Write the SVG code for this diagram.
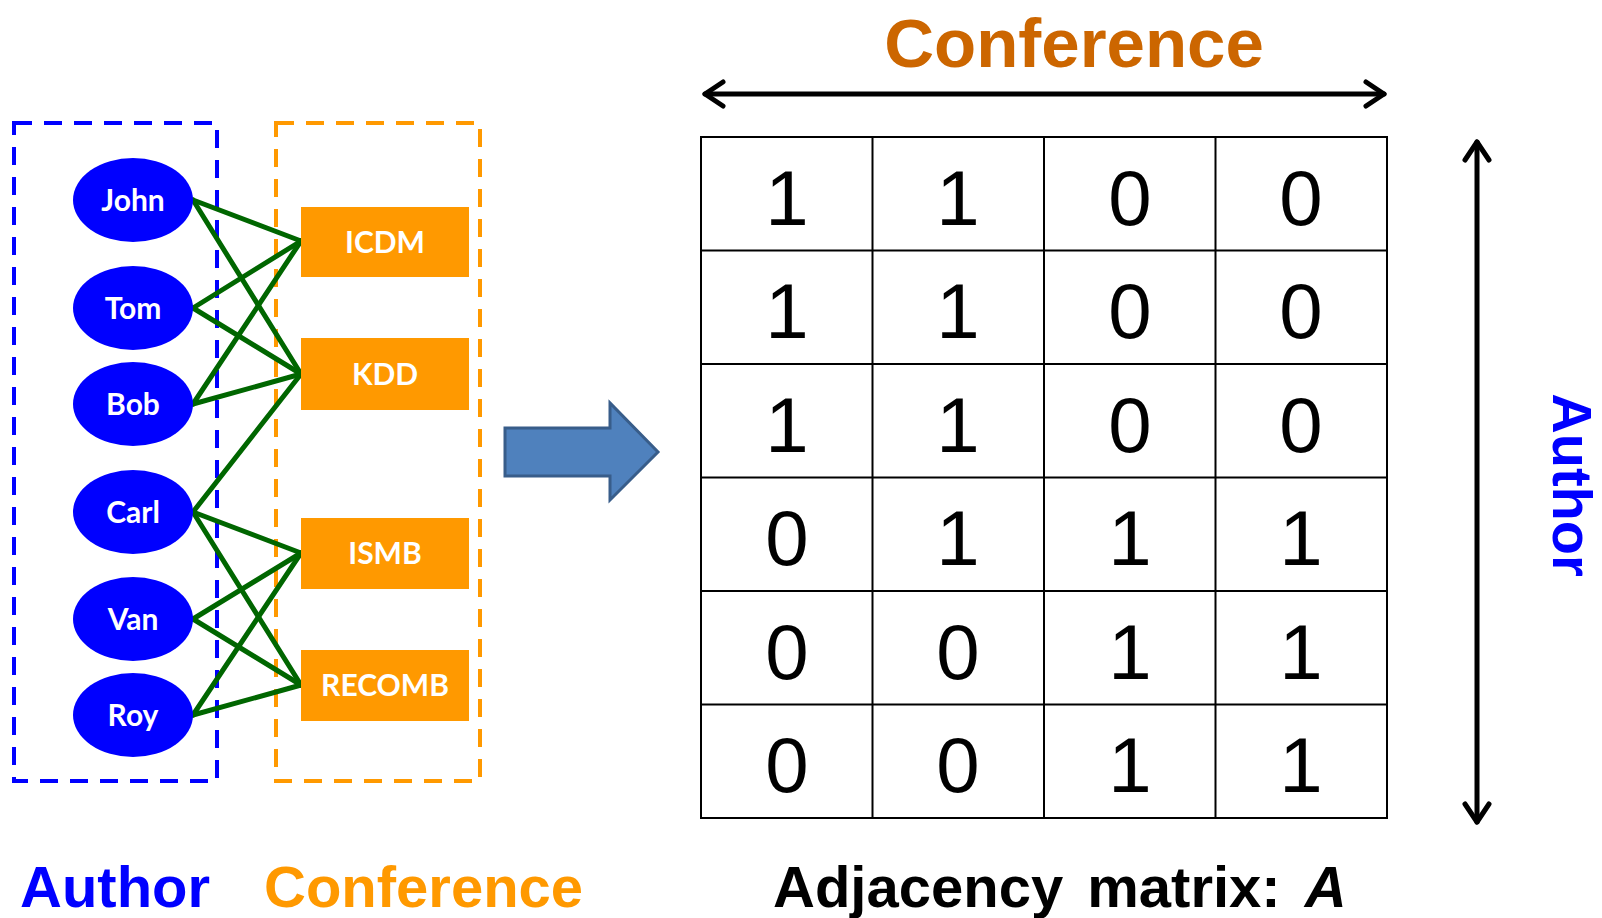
<svg xmlns="http://www.w3.org/2000/svg" width="1602" height="918" viewBox="0 0 1602 918">
<style>
.author ellipse{fill:#0000FF}
.conf rect{fill:#FF9900}
.nl{font-family:Lato,"Open Sans","Liberation Sans",sans-serif;font-weight:bold;font-size:30px;fill:#FFFFFF;text-anchor:middle}
.edge{stroke:#006600;stroke-width:5;fill:none;stroke-linecap:round}
.digit{font-family:"Liberation Sans",Arial,sans-serif;font-size:78px;fill:#000;text-anchor:middle}
.big{font-family:"Liberation Sans",Arial,sans-serif;font-weight:bold;font-size:58px}
.grid{stroke:#000;stroke-width:2;fill:none}
.dbl{stroke:#000;stroke-width:5;fill:none;stroke-linecap:round;stroke-linejoin:round}
</style>
<rect width="1602" height="918" fill="#FFFFFF"/>
<!-- group boxes -->
<rect id="authorBox" x="14" y="123" width="203" height="658" fill="none" stroke="#0000FF" stroke-width="4" stroke-dasharray="18 12"/>
<rect id="confBox" x="276" y="123" width="204" height="658" fill="none" stroke="#FF9900" stroke-width="4" stroke-dasharray="18 12"/>
<!-- connectors -->
<g id="edges" class="edge">
<line x1="193" y1="200" x2="301" y2="241"/>
<line x1="193" y1="200" x2="301" y2="374"/>
<line x1="193" y1="308" x2="301" y2="241"/>
<line x1="193" y1="308" x2="301" y2="374"/>
<line x1="193" y1="404" x2="301" y2="241"/>
<line x1="193" y1="404" x2="301" y2="374"/>
<line x1="193" y1="512" x2="301" y2="374"/>
<line x1="193" y1="512" x2="301" y2="553"/>
<line x1="193" y1="512" x2="301" y2="685"/>
<line x1="193" y1="619" x2="301" y2="553"/>
<line x1="193" y1="619" x2="301" y2="685"/>
<line x1="193" y1="715" x2="301" y2="553"/>
<line x1="193" y1="715" x2="301" y2="685"/>
</g>
<!-- author nodes -->
<g id="john" class="author"><ellipse cx="133" cy="200" rx="60" ry="42"/><text class="nl" x="133" y="211">John</text></g>
<g id="tom" class="author"><ellipse cx="133" cy="308" rx="60" ry="42"/><text class="nl" x="133" y="319">Tom</text></g>
<g id="bob" class="author"><ellipse cx="133" cy="404" rx="60" ry="42"/><text class="nl" x="133" y="415">Bob</text></g>
<g id="carl" class="author"><ellipse cx="133" cy="512" rx="60" ry="42"/><text class="nl" x="133" y="523">Carl</text></g>
<g id="van" class="author"><ellipse cx="133" cy="619" rx="60" ry="42"/><text class="nl" x="133" y="630">Van</text></g>
<g id="roy" class="author"><ellipse cx="133" cy="715" rx="60" ry="42"/><text class="nl" x="133" y="726">Roy</text></g>
<!-- conference nodes -->
<g id="icdm" class="conf"><rect x="301" y="207" width="168" height="70"/><text class="nl" x="385" y="253">ICDM</text></g>
<g id="kdd" class="conf"><rect x="301" y="338" width="168" height="72"/><text class="nl" x="385" y="385">KDD</text></g>
<g id="ismb" class="conf"><rect x="301" y="518" width="168" height="71"/><text class="nl" x="385" y="564">ISMB</text></g>
<g id="recomb" class="conf"><rect x="301" y="650" width="168" height="71"/><text class="nl" x="385" y="696">RECOMB</text></g>
<!-- block arrow -->
<g id="bigArrow"><polygon points="505,428 610,428 610,403 658,452 610,500 610,476 505,476" fill="#4F81BD" stroke="#385D8A" stroke-width="3" stroke-linejoin="miter"/></g>
<!-- matrix -->
<g id="matrix">
<rect class="grid" x="701" y="137" width="686" height="681"/>
<line class="grid" x1="872.5" y1="137" x2="872.5" y2="818"/>
<line class="grid" x1="1044" y1="137" x2="1044" y2="818"/>
<line class="grid" x1="1215.5" y1="137" x2="1215.5" y2="818"/>
<line class="grid" x1="701" y1="250.5" x2="1387" y2="250.5"/>
<line class="grid" x1="701" y1="364" x2="1387" y2="364"/>
<line class="grid" x1="701" y1="477.5" x2="1387" y2="477.5"/>
<line class="grid" x1="701" y1="591" x2="1387" y2="591"/>
<line class="grid" x1="701" y1="704.5" x2="1387" y2="704.5"/>
<g class="digit">
<text x="787" y="225">1</text><text x="958" y="225">1</text><text x="1130" y="225">0</text><text x="1301" y="225">0</text>
<text x="787" y="338">1</text><text x="958" y="338">1</text><text x="1130" y="338">0</text><text x="1301" y="338">0</text>
<text x="787" y="452">1</text><text x="958" y="452">1</text><text x="1130" y="452">0</text><text x="1301" y="452">0</text>
<text x="787" y="565">0</text><text x="958" y="565">1</text><text x="1130" y="565">1</text><text x="1301" y="565">1</text>
<text x="787" y="679">0</text><text x="958" y="679">0</text><text x="1130" y="679">1</text><text x="1301" y="679">1</text>
<text x="787" y="792">0</text><text x="958" y="792">0</text><text x="1130" y="792">1</text><text x="1301" y="792">1</text>
</g>
</g>
<!-- axis arrows -->
<g id="confAxis" class="dbl">
<line x1="705" y1="94" x2="1384" y2="94"/>
<polyline points="723,82 705,94 723,106"/>
<polyline points="1366,82 1384,94 1366,106"/>
</g>
<g id="authorAxis" class="dbl">
<line x1="1477" y1="142" x2="1477" y2="822"/>
<polyline points="1465,160 1477,142 1489,160"/>
<polyline points="1465,804 1477,822 1489,804"/>
</g>
<!-- labels -->
<text class="big" x="1074" y="67" text-anchor="middle" fill="#CC6600" style="font-size:69px">Conference</text>
<text class="big" transform="translate(1553,485) rotate(90)" text-anchor="middle" fill="#0000FF" style="font-size:56px">Author</text>
<text class="big" x="20" y="907" fill="#0000FF">Author</text>
<text class="big" x="264" y="907" fill="#FF9900">Conference</text>
<text class="big" x="773" y="907" fill="#000000" word-spacing="8">Adjacency matrix: <tspan font-style="italic">A</tspan></text>
</svg>
